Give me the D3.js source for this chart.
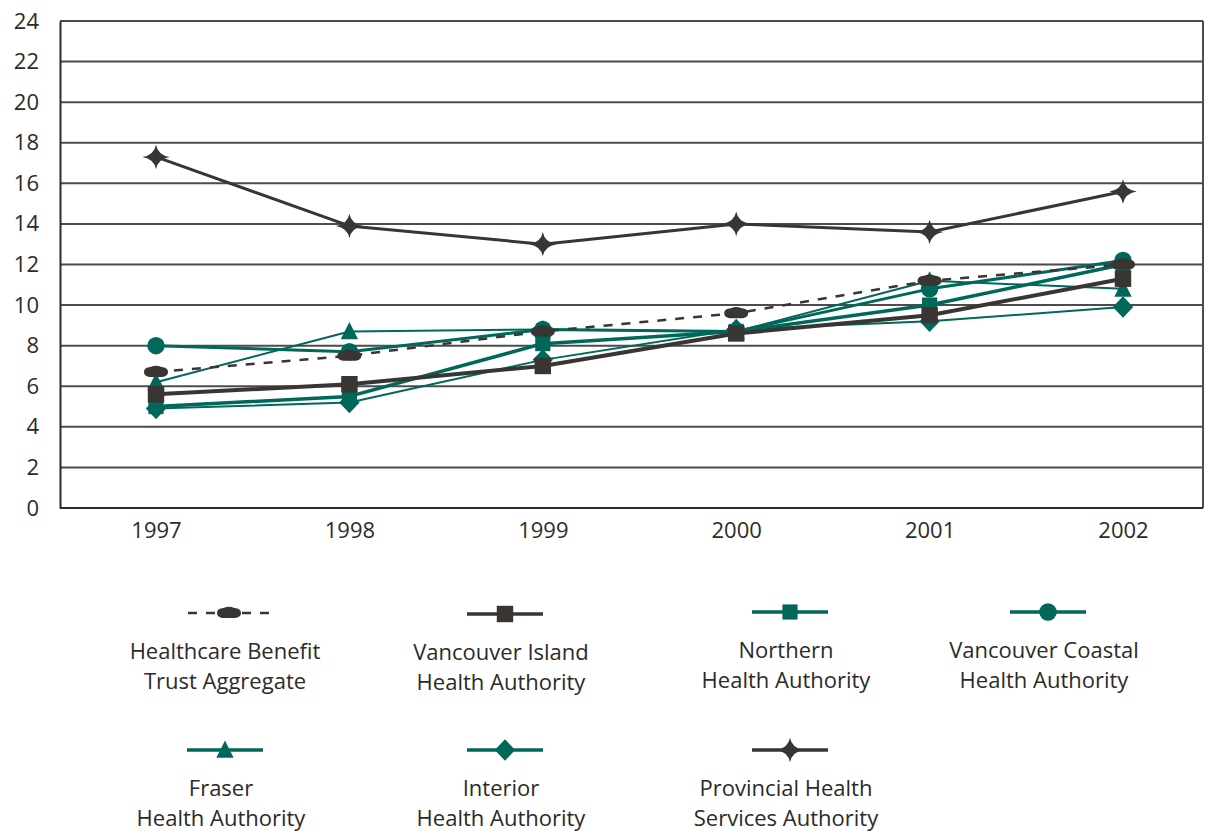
<!DOCTYPE html>
<html><head><meta charset="utf-8">
<script src="https://cdn.jsdelivr.net/npm/d3@7/dist/d3.min.js"></script>
<style>body{margin:0;background:#fff}svg{display:block}text{font-family:"Open Sans",sans-serif;fill:#2b2b2b}</style>
</head><body><svg id="c" width="1221" height="831"></svg>
<script>
const years = ["1997","1998","1999","2000","2001","2002"];
const yTicks = [0,2,4,6,8,10,12,14,16,18,20,22,24];
const fraser      = [6.2, 8.7, 8.8, 8.7, 11.2, 10.8];
const interior    = [4.9, 5.2, 7.3, 8.8, 9.2, 9.9];
const northern    = [5.0, 5.5, 8.1, 8.7, 10.0, 12.0];
const vanCoastal  = [8.0, 7.7, 8.8, 8.7, 10.8, 12.2];
const vanIsland   = [5.6, 6.1, 7.0, 8.6, 9.5, 11.3];
const hbt         = [6.7, 7.5, 8.7, 9.6, 11.2, 12.0];
const provincial  = [17.3, 13.9, 13.0, 14.0, 13.6, 15.6];
const seriesNames = [
  ["Healthcare Benefit","Trust Aggregate"],
  ["Vancouver Island","Health Authority"],
  ["Northern","Health Authority"],
  ["Vancouver Coastal","Health Authority"],
  ["Fraser","Health Authority"],
  ["Interior","Health Authority"],
  ["Provincial Health","Services Authority"]
];

const TEAL="#00675b", DARK="#393533";
const K=0.5523;
const ellipse={draw(c,s){const rx=Math.sqrt(s)*0.6, ry=rx*0.42, p=ry*1.25;
  c.moveTo(rx,0);
  c.bezierCurveTo(rx,ry*K*1.6,rx*K,ry,rx*0.45,ry);
  c.lineTo(-rx*0.45,ry);
  c.bezierCurveTo(-rx*K,ry,-rx,ry*K*1.6,-rx,0);
  c.bezierCurveTo(-rx,-ry*K*1.6,-rx*K,-ry,-rx*0.45,-ry);
  c.quadraticCurveTo(0,-p*1.2,rx*0.45,-ry);
  c.bezierCurveTo(rx*K,-ry,rx,-ry*K*1.6,rx,0);
  c.closePath();}};
const star4={draw(c,s){const r=Math.sqrt(s)*0.72, rv=r*0.9, i=r*0.14;c.moveTo(0,-rv);c.quadraticCurveTo(i,-i,r,0);c.quadraticCurveTo(i,i,0,rv);c.quadraticCurveTo(-i,i,-r,0);c.quadraticCurveTo(-i,-i,0,-rv);c.closePath();}};
const tri={draw(c,s){const h=Math.sqrt(s);c.moveTo(0,-h*0.55);c.lineTo(h*0.5,h*0.45);c.lineTo(-h*0.5,h*0.45);c.closePath();}};
const diamond={draw(c,s){const h=Math.sqrt(s)*0.62;c.moveTo(0,-h);c.lineTo(h*0.95,0);c.lineTo(0,h);c.lineTo(-h*0.95,0);c.closePath();}};

// drawing order: teal series first, dark last
const series = [
  {name:seriesNames[4], vals:fraser, color:TEAL, w:2, dash:null, sym:tri, size:300, lx:225, ly:750},
  {name:seriesNames[5], vals:interior, color:TEAL, w:2, dash:null, sym:diamond, size:300, lx:505, ly:750},
  {name:seriesNames[2], vals:northern, color:TEAL, w:3.5, dash:null, sym:d3.symbolSquare, size:230, lx:790, ly:612},
  {name:seriesNames[3], vals:vanCoastal, color:TEAL, w:3, dash:null, sym:d3.symbolCircle, size:240, lx:1048, ly:612},
  {name:seriesNames[1], vals:vanIsland, color:DARK, w:4, dash:null, sym:d3.symbolSquare, size:270, lx:505, ly:614},
  {name:seriesNames[0], vals:hbt, color:DARK, w:2.5, dash:"9,9", sym:ellipse, size:400, lx:229, ly:613},
  {name:seriesNames[6], vals:provincial, color:DARK, w:3, dash:null, sym:star4, size:360, lx:790, ly:750}
];

const svg=d3.select("#c");
const L=60,R=1203,T=21,B=508;
const x=d3.scalePoint().domain(years).range([156,1123]);
const y=d3.scaleLinear().domain([0,24]).range([B,T]);

// gridlines
svg.append("g").selectAll("line").data(yTicks.filter(d=>d>0)).join("line")
  .attr("x1",L).attr("x2",R).attr("y1",d=>y(d)).attr("y2",d=>y(d))
  .attr("stroke","#4d4b4b").attr("stroke-width",2);
svg.append("line").attr("x1",R).attr("x2",R).attr("y1",T).attr("y2",B).attr("stroke","#4d4b4b").attr("stroke-width",2);

// y axis
const ya=svg.append("g").attr("transform",`translate(${L},0)`).call(d3.axisLeft(y).tickValues(yTicks).tickSize(0).tickPadding(21));
ya.select(".domain").attr("stroke","#2b2b2b").attr("stroke-width",2);
ya.selectAll("text").style("font-size","22px").style("font-family","'Open Sans',sans-serif").attr("fill","#2b2b2b");

// x axis
const xa=svg.append("g").attr("transform",`translate(0,${B})`).call(d3.axisBottom(x).tickSize(0).tickPadding(14));
xa.select(".domain").remove();
svg.append("line").attr("x1",L).attr("x2",R).attr("y1",B).attr("y2",B).attr("stroke","#2b2b2b").attr("stroke-width",2);
xa.selectAll("text").style("font-size","22px").style("font-family","'Open Sans',sans-serif").attr("fill","#2b2b2b");

const line=d3.line().x((d,i)=>x(years[i])).y(d=>y(d));
const g=svg.append("g");
series.forEach(s=>{
  g.append("path").attr("d",line(s.vals)).attr("fill","none").attr("stroke",s.color)
    .attr("stroke-width",s.w).attr("stroke-dasharray",s.dash).attr("stroke-linejoin","round");
  g.append("g").selectAll("path").data(s.vals).join("path")
    .attr("transform",(d,i)=>`translate(${x(years[i])},${y(d)})`)
    .attr("d",d3.symbol().type(s.sym).size(s.size)).attr("fill",s.color);
});

// legend
const lg=svg.append("g");
series.forEach(s=>{
  const half=s.sym===ellipse?41:38;
  lg.append("line").attr("x1",s.lx-half).attr("x2",s.lx+half).attr("y1",s.ly).attr("y2",s.ly)
    .attr("stroke",s.color).attr("stroke-width",s.sym===ellipse?2.5:3.5).attr("stroke-dasharray",s.dash);
  lg.append("path").attr("transform",`translate(${s.lx},${s.ly})`)
    .attr("d",d3.symbol().type(s.sym).size(s.size)).attr("fill",s.color);
  const t=lg.append("text").attr("text-anchor","middle").style("font-size","22px");
  const base=s.ly+46;
  t.append("tspan").attr("x",s.lx-4).attr("y",base).text(s.name[0]);
  t.append("tspan").attr("x",s.lx-4).attr("y",base+30).text(s.name[1]);
});
</script></body></html>
